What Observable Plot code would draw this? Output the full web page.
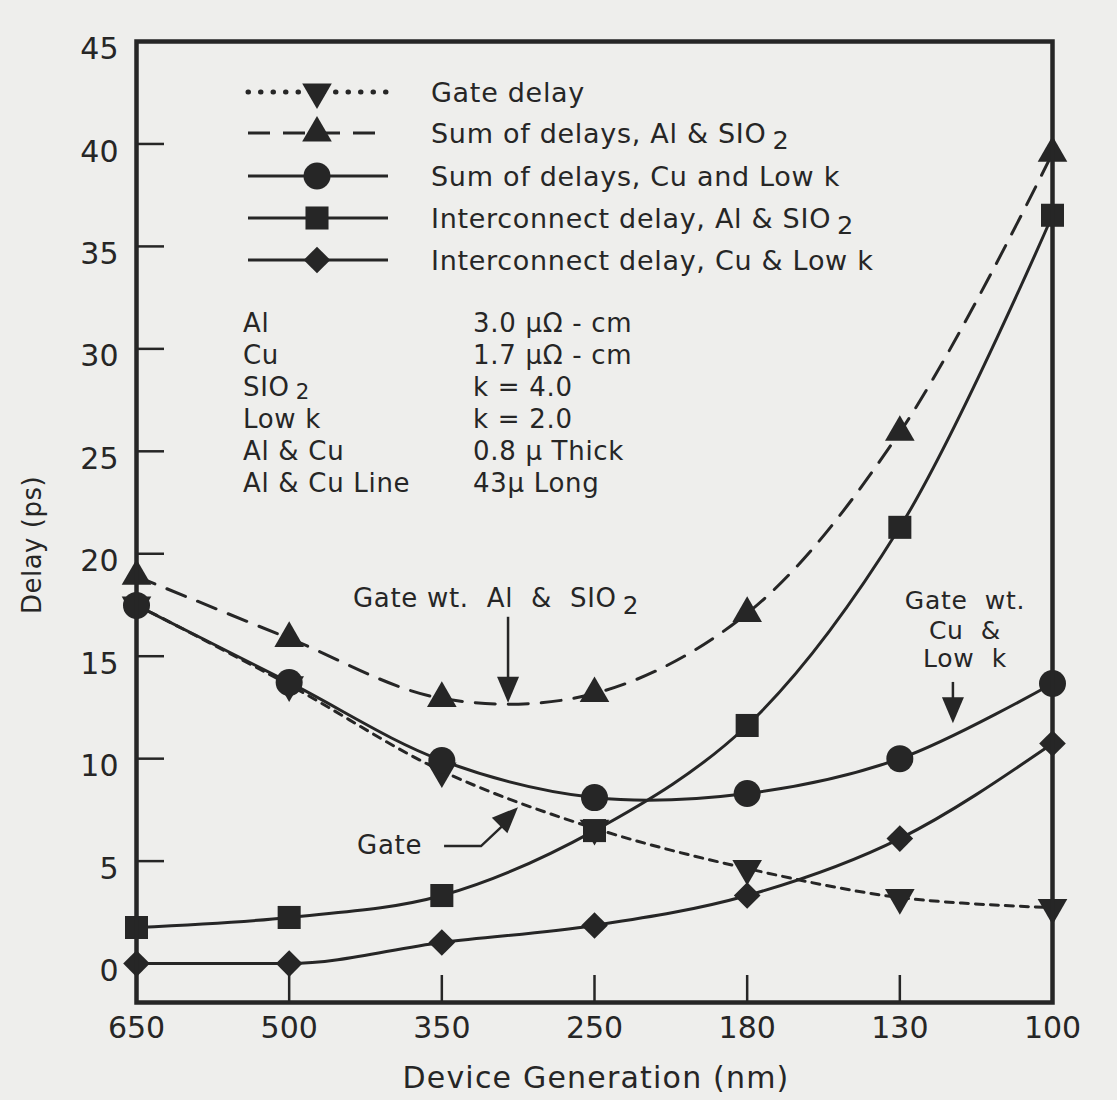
<!DOCTYPE html>
<html><head><meta charset="utf-8">
<script src="https://cdn.jsdelivr.net/npm/d3@7"></script>
<script src="https://cdn.jsdelivr.net/npm/@observablehq/plot@0.6"></script>
<style>
html,body{margin:0;padding:0;background:#eeeeec;}
#chart{position:relative;width:1117px;height:1100px;}
svg{display:block;}
</style></head><body><div id="chart"></div>
<script>
// Device generations (nm), x-axis categories
const generations = ["650", "500", "350", "250", "180", "130", "100"];
// Delay values (ps)
const gateDelay   = [17.5, 13.6, 9.4, 6.6, 4.64, 3.22, 2.73];
const sumAlSiO2   = [18.9, 15.87, 12.94, 13.18, 17.09, 25.93, 39.55];
const sumCuLowK   = [17.48, 13.72, 9.91, 8.1, 8.3, 10.0, 13.67];
const interAlSiO2 = [1.76, 2.25, 3.32, 6.49, 11.62, 21.29, 36.52];
const interCuLowK = [0, 0, 1.03, 1.86, 3.32, 6.1, 10.74];
const yTicks = [0, 5, 10, 15, 20, 25, 30, 35, 40, 45];
const seriesNames = [
  "Gate delay",
  "Sum of delays, Al & SIO2",
  "Sum of delays, Cu and Low k",
  "Interconnect delay, Al & SIO2",
  "Interconnect delay, Cu & Low k"
];
const tableLeft = ["Al", "Cu", "SIO2", "Low k", "Al & Cu", "Al & Cu Line"];
const tableRight = ["3.0 \u00b5\u03a9 - cm", "1.7 \u00b5\u03a9 - cm", "k = 4.0", "k = 2.0", "0.8 \u00b5 Thick", "43\u00b5 Long"];

const ink = "#262626";
const font = "DejaVu Sans";

const series = [
  {name: seriesNames[0], values: gateDelay,   symbol: "triangle", rotate: 180, r: 11, dash: "8,7", curve: "catmull-rom"},
  {name: seriesNames[1], values: sumAlSiO2,   symbol: "triangle", rotate: 0,   r: 11, dash: "20,13", curve: "catmull-rom"},
  {name: seriesNames[2], values: sumCuLowK,   symbol: "circle",   rotate: 0,   r: 13.5, dash: null, curve: "catmull-rom"},
  {name: seriesNames[3], values: interAlSiO2, symbol: "square",   rotate: 0,   r: 13, dash: null, curve: "catmull-rom"},
  {name: seriesNames[4], values: interCuLowK, symbol: "diamond2", rotate: 0,   r: 12, dash: null, curve: "monotone-x"}
];
const rows = s => s.values.map((v, i) => ({i, v, name: s.name}));

const W = 1117, H = 1100, mL = 136, mR = 65, mT = 41, mB = 98;
const fw = W - mL - mR, fh = H - mT - mB;

const marks = [
  Plot.ruleY(yTicks.slice(1, -1), {stroke: ink, strokeWidth: 2.5, insetRight: fw - 28}),
  Plot.ruleX(d3.range(1, generations.length - 1), {stroke: ink, strokeWidth: 2.5, insetTop: fh - 27}),
  Plot.axisY({ticks: yTicks, tickSize: 0, tickPadding: 18, dy: 8, fontSize: 30, label: null}),
  Plot.axisX({ticks: d3.range(generations.length), tickFormat: i => generations[i], tickSize: 0, tickPadding: 14, fontSize: 30, label: null})
];
for (const s of series) {
  marks.push(Plot.line(rows(s), {x: "i", y: "v", curve: s.curve, stroke: ink, strokeWidth: 3,
    strokeDasharray: s.dash || undefined}));
}
for (const s of series) {
  marks.push(Plot.dot(rows(s), {x: "i", y: "v", symbol: s.symbol, r: s.r, fill: ink, stroke: "none", rotate: s.rotate}));
}
marks.push(Plot.frame({stroke: ink, strokeWidth: 4.5}));

const plot = Plot.plot({
  width: W, height: H,
  marginLeft: mL, marginRight: mR, marginTop: mT, marginBottom: mB,
  style: {background: "transparent", fontFamily: font, color: ink, overflow: "visible"},
  x: {type: "linear", domain: [0, generations.length - 1], label: null},
  y: {domain: [-1.9, 45], label: null},
  marks
});
document.getElementById("chart").appendChild(plot);

// ---- overlay: legend, parameter table, annotations, axis titles ----
const sx = v => plot.scale("x").apply(v);
const sy = v => plot.scale("y").apply(v);
const svg = d3.select(plot);
const g = svg.append("g").attr("font-family", font).attr("fill", ink);

function addText(x, y, str, size, anchor, spacing, subDy) {
  const sd = subDy == null ? 7 : subDy;
  const t = g.append("text").attr("x", x).attr("y", y).attr("font-size", size)
    .attr("letter-spacing", spacing == null ? 0.7 : spacing)
    .attr("text-anchor", anchor || "start").attr("dominant-baseline", "central");
  const m = str.match(/^(.*SIO)2(.*)$/);
  if (m) {
    t.append("tspan").text(m[1]);
    t.append("tspan").attr("dx", 6).attr("dy", sd).attr("font-size", size * (sd < 7 ? 0.82 : 0.95)).text("2");
    if (m[2]) t.append("tspan").attr("dy", -sd).text(m[2]);
  } else t.text(str);
  return t;
}
function marker(x, y, s) {
  const sym = {triangle: d3.symbolTriangle, circle: d3.symbolCircle, square: d3.symbolSquare, diamond2: d3.symbolDiamond2}[s.symbol];
  g.append("path").attr("d", d3.symbol(sym, Math.PI * s.r * s.r)())
    .attr("transform", `translate(${x},${y}) rotate(${s.rotate})`).attr("fill", ink);
}

// legend
const legY = [92, 133, 176, 218, 260];
series.forEach((s, k) => {
  const y = legY[k];
  const line = g.append("line").attr("x1", 248).attr("x2", 388).attr("y1", y).attr("y2", y)
    .attr("stroke", ink).attr("stroke-width", 3);
  if (k === 0) line.attr("stroke-dasharray", "0.5,12").attr("stroke-linecap", "round").attr("stroke-width", 5);
  if (k === 1) line.attr("stroke-dasharray", "22,13");
  marker(317, y, s);
  addText(431, y, s.name, 27);
});

// parameter table
tableLeft.forEach((t, k) => {
  addText(243, 323 + k * 32, t, 26, "start", 0.7, 4);
  addText(473, 323 + k * 32, tableRight[k], 26);
});

// annotation arrows
function head(x, y, angle) {
  g.append("path").attr("d", "M0,0 L-11,-26 L11,-26 Z")
    .attr("transform", `translate(${x},${y}) rotate(${angle})`).attr("fill", ink);
}
// Gate wt. Al & SIO2
addText(sx(1.421), sy(17.8), "Gate wt.  Al  &  SIO2", 26);
g.append("line").attr("x1", sx(2.437)).attr("x2", sx(2.437)).attr("y1", sy(16.9)).attr("y2", sy(13.6))
  .attr("stroke", ink).attr("stroke-width", 2.5);
head(sx(2.437), sy(12.7), 0);
// Gate wt. Cu & Low k
addText(sx(5.43), sy(17.7), "Gate  wt.", 25, "middle");
addText(sx(5.43), sy(16.25), "Cu  &", 25, "middle");
addText(sx(5.43), sy(14.85), "Low  k", 25, "middle");
g.append("line").attr("x1", sx(5.351)).attr("x2", sx(5.351)).attr("y1", sy(13.72)).attr("y2", sy(12.6))
  .attr("stroke", ink).attr("stroke-width", 2.5);
head(sx(5.351), sy(11.7), 0);
// Gate
addText(sx(1.448), sy(5.76), "Gate", 26);
g.append("path").attr("d", `M${sx(2.018)},${sy(5.71)} L${sx(2.26)},${sy(5.71)} L${sx(2.43)},${sy(6.9)}`)
  .attr("fill", "none").attr("stroke", ink).attr("stroke-width", 2.5);
head(sx(2.502), sy(7.61), -135);

// axis titles
addText(596, 1077, "Device Generation (nm)", 30, "middle", 1.2);
g.append("text").attr("transform", "translate(32,545) rotate(-90)").attr("text-anchor", "middle")
  .attr("dominant-baseline", "central").attr("font-size", 26).attr("letter-spacing", 0.5).text("Delay (ps)");
</script></body></html>
